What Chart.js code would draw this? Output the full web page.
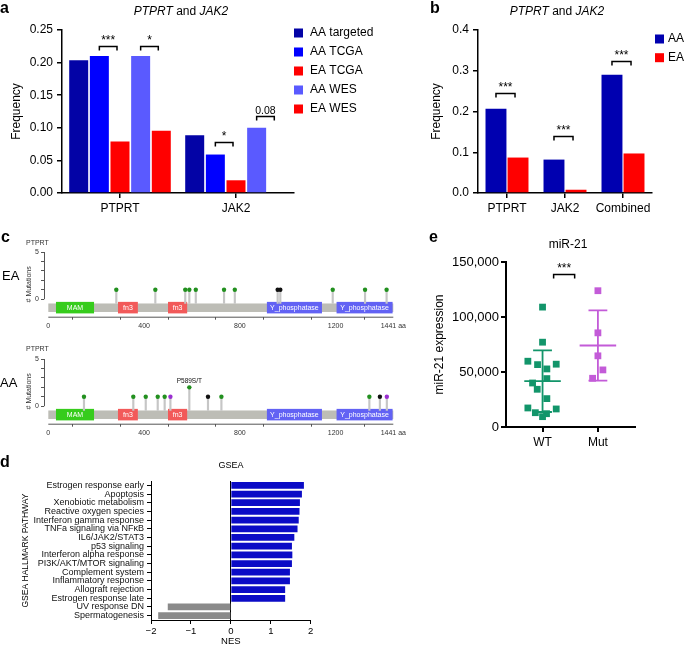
<!DOCTYPE html>
<html>
<head>
<meta charset="utf-8">
<title>PTPRT and JAK2</title>
<script src="https://cdn.jsdelivr.net/npm/chart.js@4.4.1/dist/chart.umd.min.js"></script>
<style>
  body { margin: 0; background: #fff; }
  #fig { position: relative; width: 685px; height: 647px; overflow: hidden; font-family: 'Liberation Sans', Arial, Helvetica, sans-serif; }
  #fig canvas { position: absolute; }
  .t { position: absolute; white-space: nowrap; line-height: 1; color: #000; }
  .p { font-weight: bold; font-size: 16px; }
</style>
</head>
<body>
<div id="fig">
  <canvas id="chartA" width="420" height="215" style="left:0;top:0"></canvas>
  <canvas id="chartB" width="265" height="215" style="left:420px;top:0"></canvas>
  <canvas id="chartC1" width="420" height="95" style="left:0;top:240px"></canvas>
  <canvas id="chartC2" width="420" height="95" style="left:0;top:347px"></canvas>
  <canvas id="chartD" width="340" height="207" style="left:0;top:440px"></canvas>
  <canvas id="chartE" width="285" height="230" style="left:400px;top:230px"></canvas>

  <div class="t p" style="left:0;top:0">a</div>
  <div class="t p" style="left:430px;top:0">b</div>
  <div class="t p" style="left:1px;top:229px">c</div>
  <div class="t p" style="left:0;top:454px">d</div>
  <div class="t p" style="left:429px;top:229px">e</div>

  <div class="t" style="left:121px;top:5px;width:120px;text-align:center;font-size:12px"><i>PTPRT</i> and <i>JAK2</i></div>
  <div class="t" style="left:497px;top:5px;width:120px;text-align:center;font-size:12px"><i>PTPRT</i> and <i>JAK2</i></div>
  <div class="t" style="left:518px;top:238px;width:100px;text-align:center;font-size:12px">miR-21</div>
  <div class="t" style="left:201px;top:461px;width:60px;text-align:center;font-size:9px">GSEA</div>

  <div class="t" style="left:26px;top:239px;font-size:7px;color:#333">PTPRT</div>
  <div class="t" style="left:26px;top:345px;font-size:7px;color:#333">PTPRT</div>
  <div class="t" style="left:2px;top:269px;font-size:13px">EA</div>
  <div class="t" style="left:0;top:376px;font-size:13px">AA</div>
</div>

<script>
const FONT = "'Liberation Sans', Arial, Helvetica, sans-serif";
Chart.defaults.font.family = FONT;
Chart.defaults.color = '#000';
Chart.defaults.animation = false;
Chart.defaults.responsive = false;
Chart.defaults.plugins.legend.display = false;
Chart.defaults.plugins.tooltip.enabled = false;

// ---- panel a: mutation frequency by cohort ----
const aCategories = ['PTPRT', 'JAK2'];
const aSeries = ['AA targeted', 'AA TCGA', 'EA TCGA', 'AA WES', 'EA WES'];
const aAAtargeted = [0.2035, 0.0885];
const aAATCGA = [0.210, 0.059];
const aEATCGA = [0.079, 0.0195];
const aAAWES = [0.210, 0.100];
const aEAWES = [0.0955, 0];
const aTicks = [0, 0.05, 0.10, 0.15, 0.20, 0.25];
const aColors = ['#0303a6', '#0000ff', '#ff0000', '#5a5aff', '#ff0000'];
const aBracketCat = [0, 0, 1, 1];
const aBracketFrom = [1, 3, 1, 3];
const aBracketTo = [2, 4, 2, 4];
const aBracketAt = [0.2255, 0.2255, 0.0787, 0.118];
const aBracketText = ['***', '*', '*', '0.08'];

// ---- panel b: AA vs EA ----
const bCategories = ['PTPRT', 'JAK2', 'Combined'];
const bAA = [0.207, 0.082, 0.290];
const bEA = [0.087, 0.008, 0.097];
const bTicks = [0, 0.1, 0.2, 0.3, 0.4];
const bBracketCat = [0, 1, 2];
const bBracketAt = [0.245, 0.141, 0.324];
const bBracketText = ['***', '***', '***'];

// ---- panel c: PTPRT lollipops ----
const cProteinLength = 1441;
const cDomainNames = ['MAM', 'fn3', 'fn3', 'Y_phosphatase', 'Y_phosphatase'];
const cDomainStart = [32, 291, 500, 913, 1204];
const cDomainEnd = [191, 374, 580, 1143, 1438];
const cDomainColors = ['#36cc1c', '#f25a5a', '#f25a5a', '#6262f4', '#6262f4'];
const cAxisTicks = [0, 200, 400, 600, 800, 1000, 1200, 1441];
const cEAPositions = [284, 447, 572, 589, 616, 734, 779, 958, 969, 1188, 1323, 1413];
const cEACounts = [1, 1, 1, 1, 1, 1, 1, 1, 1, 1, 1, 1];
const cEATypes = ['mis', 'mis', 'mis', 'mis', 'mis', 'mis', 'mis', 'trunc', 'trunc', 'mis', 'mis', 'mis'];
const cEANotes = ['', '', '', '', '', '', '', '', '', '', '', ''];
const cAAPositions = [149, 355, 407, 457, 486, 510, 589, 667, 723, 1341, 1385, 1414];
const cAACounts = [1, 1, 1, 1, 1, 1, 2, 1, 1, 1, 1, 1];
const cAATypes = ['mis', 'mis', 'mis', 'mis', 'mis', 'other', 'mis', 'trunc', 'mis', 'mis', 'trunc', 'other'];
const cAANotes = ['', '', '', '', '', '', 'P589S/T', '', '', '', '', ''];
const mutColors = { mis: '#22901f', trunc: '#111111', other: '#9a2fd0' };

// ---- panel d: GSEA ----
const dPathways = ['Estrogen response early', 'Apoptosis', 'Xenobiotic metabolism', 'Reactive oxygen species',
  'Interferon gamma response', 'TNFa signaling via NF\u03baB', 'IL6/JAK2/STAT3', 'p53 signaling',
  'Interferon alpha response', 'PI3K/AKT/MTOR signaling', 'Complement system', 'Inflammatory response',
  'Allograft rejection', 'Estrogen response late', 'UV response DN', 'Spermatogenesis'];
const dNES = [1.83, 1.78, 1.73, 1.72, 1.70, 1.67, 1.59, 1.53, 1.54, 1.53, 1.48, 1.48, 1.36, 1.36, -1.58, -1.82];
const dTicks = [-2, -1, 0, 1, 2];

// ---- panel e: miR-21 ----
const eGroups = ['WT', 'Mut'];
const eWT = [109000, 77100, 59800, 56700, 52800, 57100, 44000, 40000, 34300, 25800, 17300, 16400, 13000, 12100, 9400];
const eWTJitter = [0, 0, -0.265, -0.09, 0.078, 0.247, 0.078, -0.18, -0.096, 0.078, -0.265, 0.247, -0.13, 0.072, 0];
const eMut = [123900, 85600, 64700, 51900, 44300];
const eMutJitter = [0, 0, 0, 0.09, -0.096];
const eTicks = [0, 50000, 100000, 150000];
const eColors = ['#12956a', '#c35bd8'];

function blackAxis(w, len) {
  return {
    grid: { drawOnChartArea: false, offset: false, tickLength: len, color: '#000', lineWidth: w },
    border: { color: '#000', width: w }
  };
}

// significance brackets; xs(chart, i) gives the two x pixels
function brackets(at, text, xs) {
  return {
    id: 'brackets',
    afterDatasetsDraw(chart) {
      const ctx = chart.ctx;
      const y = chart.scales.y;
      ctx.save();
      ctx.strokeStyle = '#000';
      ctx.fillStyle = '#000';
      ctx.lineWidth = 1.5;
      ctx.textAlign = 'center';
      at.forEach((v, i) => {
        const [x1, x2] = xs(chart, i);
        const yy = Math.round(y.getPixelForValue(v)) + 0.5;
        ctx.beginPath();
        ctx.moveTo(x1, yy + 4);
        ctx.lineTo(x1, yy);
        ctx.lineTo(x2, yy);
        ctx.lineTo(x2, yy + 4);
        ctx.stroke();
        ctx.font = (/^\*+$/.test(text[i]) ? 12 : 10.5) + 'px ' + FONT;
        ctx.fillText(text[i], (x1 + x2) / 2, yy - 3);
      });
      ctx.restore();
    }
  };
}

function boxLegend(x, y, step, box, gap) {
  return {
    id: 'boxLegend',
    afterDraw(chart) {
      const ctx = chart.ctx;
      ctx.save();
      ctx.font = '12px ' + FONT;
      ctx.textBaseline = 'middle';
      ctx.textAlign = 'left';
      chart.data.datasets.forEach((ds, i) => {
        const yy = y + i * step;
        ctx.fillStyle = ds.backgroundColor;
        ctx.fillRect(x, yy - box / 2, box, box);
        ctx.fillStyle = '#000';
        ctx.fillText(ds.label, x + box + gap, yy);
      });
      ctx.restore();
    }
  };
}

// panel a
const aValues = [aAAtargeted, aAATCGA, aEATCGA, aAAWES, aEAWES];
new Chart(document.getElementById('chartA'), {
  type: 'bar',
  data: {
    labels: aCategories,
    datasets: aSeries.map((name, i) => ({
      label: name,
      data: aValues[i],
      backgroundColor: aColors[i],
      categoryPercentage: 0.89,
      barPercentage: 0.92
    }))
  },
  options: {
    layout: { padding: { top: 30, right: 126, left: 0, bottom: 0 } },
    scales: {
      x: {
        ...blackAxis(1.5, 5),
        ticks: { font: { size: 12 }, padding: 3, maxRotation: 0, minRotation: 0, autoSkip: false },
        afterFit: s => { s.height = 22; }
      },
      y: {
        ...blackAxis(1.5, 5),
        min: 0, max: 0.25,
        afterBuildTicks: s => { s.ticks = aTicks.map(v => ({ value: v })); },
        ticks: { font: { size: 12 }, padding: 4, callback: v => v.toFixed(2) },
        title: { display: true, text: 'Frequency', font: { size: 12 }, padding: { top: 9 } },
        afterFit: s => { s.width = 62; }
      }
    }
  },
  plugins: [
    brackets(aBracketAt, aBracketText, (chart, i) => [
      chart.getDatasetMeta(aBracketFrom[i]).data[aBracketCat[i]].x,
      chart.getDatasetMeta(aBracketTo[i]).data[aBracketCat[i]].x - 3
    ]),
    boxLegend(294, 33, 19, 9, 7)
  ]
});

// panel b
new Chart(document.getElementById('chartB'), {
  type: 'bar',
  data: {
    labels: bCategories,
    datasets: [
      { label: 'AA', data: bAA, backgroundColor: '#0000b0', categoryPercentage: 0.76, barPercentage: 0.95 },
      { label: 'EA', data: bEA, backgroundColor: '#ff0000', categoryPercentage: 0.76, barPercentage: 0.95 }
    ]
  },
  options: {
    layout: { padding: { top: 30, right: 33, left: 0, bottom: 0 } },
    scales: {
      x: {
        ...blackAxis(1.5, 5),
        ticks: { font: { size: 12 }, padding: 3, maxRotation: 0, minRotation: 0, autoSkip: false },
        afterFit: s => { s.height = 22; }
      },
      y: {
        ...blackAxis(1.5, 5),
        min: 0, max: 0.4,
        afterBuildTicks: s => { s.ticks = bTicks.map(v => ({ value: v })); },
        ticks: { font: { size: 12 }, padding: 4, callback: v => v.toFixed(1) },
        title: { display: true, text: 'Frequency', font: { size: 12 }, padding: { top: 9 } },
        afterFit: s => { s.width = 58; }
      }
    }
  },
  plugins: [
    brackets(bBracketAt, bBracketText, (chart, i) => [
      chart.getDatasetMeta(0).data[bBracketCat[i]].x,
      chart.getDatasetMeta(1).data[bBracketCat[i]].x - 3
    ]),
    boxLegend(235, 39, 18.7, 9, 4)
  ]
});

// panel c
const stemBase = -0.45;
const proteinPlugin = {
  id: 'protein',
  beforeDatasetsDraw(chart) {
    const { ctx, chartArea, scales: { x, y } } = chart;
    const px = v => x.getPixelForValue(v);
    const py = v => y.getPixelForValue(v);
    ctx.save();
    // axis lines, only over the used range
    ctx.strokeStyle = '#555';
    ctx.lineWidth = 1;
    ctx.beginPath();
    ctx.moveTo(chartArea.left + 0.5, py(0));
    ctx.lineTo(chartArea.left + 0.5, py(5));
    ctx.moveTo(px(0), chartArea.bottom + 0.5);
    ctx.lineTo(px(cProteinLength), chartArea.bottom + 0.5);
    ctx.stroke();
    // backbone
    ctx.fillStyle = '#bdbdb6';
    ctx.fillRect(px(0), py(stemBase), px(cProteinLength) - px(0), py(-1.35) - py(stemBase));
    // domains
    ctx.font = '7px ' + FONT;
    ctx.textAlign = 'center';
    ctx.textBaseline = 'middle';
    const top = py(-0.28), bot = py(-1.5);
    cDomainStart.forEach((s, i) => {
      const x1 = px(s), x2 = px(cDomainEnd[i]);
      ctx.fillStyle = cDomainColors[i];
      ctx.fillRect(x1, top, x2 - x1, bot - top);
      ctx.fillStyle = '#fff';
      ctx.fillText(cDomainNames[i], (x1 + x2) / 2, (top + bot) / 2 + 0.5);
    });
    ctx.restore();
  }
};

function notesPlugin(positions, counts, notes) {
  return {
    id: 'notes',
    afterDatasetsDraw(chart) {
      const { ctx, scales: { x, y } } = chart;
      ctx.save();
      ctx.font = '6.5px ' + FONT;
      ctx.fillStyle = '#111';
      ctx.textAlign = 'center';
      notes.forEach((n, i) => {
        if (n) ctx.fillText(n, x.getPixelForValue(positions[i]), y.getPixelForValue(counts[i]) - 4);
      });
      ctx.restore();
    }
  };
}

function lollipop(id, positions, counts, types, notes) {
  new Chart(document.getElementById(id), {
    type: 'bar',
    data: {
      datasets: [
        {
          type: 'scatter',
          data: positions.map((p, i) => ({ x: p, y: counts[i] })),
          pointRadius: 2.2,
          pointBorderWidth: 0,
          pointBackgroundColor: types.map(t => mutColors[t])
        },
        {
          type: 'bar',
          data: positions.map((p, i) => ({ x: p, y: [stemBase, counts[i]] })),
          backgroundColor: '#c6c6c6',
          barThickness: 1.5,
          grouped: false
        }
      ]
    },
    options: {
      layout: { padding: { top: 12, right: 25.5, left: 0, bottom: 0 } },
      scales: {
        x: {
          type: 'linear', offset: false, min: -18, max: 1446,
          afterBuildTicks: s => { s.ticks = cAxisTicks.map(v => ({ value: v })); },
          ticks: {
            autoSkip: false, maxRotation: 0, font: { size: 7 }, color: '#333', padding: 2,
            callback: v => v === cProteinLength ? v + ' aa' : (v % 400 === 0 ? String(v) : '')
          },
          grid: { drawOnChartArea: false, tickLength: 3, color: '#555', lineWidth: 1 },
          border: { display: false },
          afterFit: s => { s.height = 18.3; }
        },
        y: {
          min: -1.85, max: 5,
          afterBuildTicks: s => { s.ticks = [0, 1, 2, 3, 4, 5].map(v => ({ value: v })); },
          ticks: { font: { size: 7 }, color: '#333', padding: 2, callback: v => (v === 0 || v === 5) ? String(v) : '' },
          grid: { drawOnChartArea: false, tickLength: 3, color: '#555', lineWidth: 1 },
          border: { display: false },
          title: { display: true, text: '# Mutations', font: { size: 7 }, color: '#333', padding: { top: 25 } },
          afterFit: s => { s.width = 44; }
        }
      }
    },
    plugins: [proteinPlugin, notesPlugin(positions, counts, notes)]
  });
}
lollipop('chartC1', cEAPositions, cEACounts, cEATypes, cEANotes);
lollipop('chartC2', cAAPositions, cAACounts, cAATypes, cAANotes);

// panel d
new Chart(document.getElementById('chartD'), {
  type: 'bar',
  data: {
    labels: dPathways,
    datasets: [{
      data: dNES,
      backgroundColor: c => c.raw >= 0 ? '#0b0bc6' : '#8a8a8a',
      categoryPercentage: 1,
      barPercentage: 0.78
    }]
  },
  options: {
    indexAxis: 'y',
    layout: { padding: { top: 41, right: 29.3, left: 0, bottom: 0 } },
    scales: {
      x: {
        min: -2, max: 2,
        afterBuildTicks: s => { s.ticks = dTicks.map(v => ({ value: v })); },
        ticks: { font: { size: 9.5 }, padding: 2, callback: v => String(v).replace('-', '\u2212') },
        grid: {
          drawOnChartArea: true, tickLength: 4, lineWidth: 1, tickColor: '#000',
          color: c => (c.tick && c.tick.value === 0) ? '#000' : 'rgba(0,0,0,0)'
        },
        border: { color: '#000', width: 1 },
        title: { display: true, text: 'NES', font: { size: 9.5 }, padding: { top: 0, bottom: 0 } },
        afterFit: s => { s.height = 27; }
      },
      y: {
        ...blackAxis(1, 4),
        ticks: { font: { size: 9 }, padding: 3, autoSkip: false, color: '#111' },
        title: { display: true, text: 'GSEA HALLMARK PATHWAY', font: { size: 8.5 }, padding: { top: 20.5 } },
        afterFit: s => { s.width = 151; }
      }
    }
  }
});

// panel e
const meanSd = {
  id: 'meanSd',
  afterDatasetsDraw(chart) {
    const { ctx, scales: { x, y } } = chart;
    const px = v => x.getPixelForValue(v);
    const py = v => y.getPixelForValue(v);
    [eWT, eMut].forEach((vals, g) => {
      const n = vals.length;
      const mean = vals.reduce((a, b) => a + b, 0) / n;
      const sd = Math.sqrt(vals.reduce((a, b) => a + (b - mean) * (b - mean), 0) / (n - 1));
      const cx = g + 1;
      ctx.save();
      ctx.strokeStyle = eColors[g];
      ctx.lineWidth = 1.8;
      ctx.beginPath();
      ctx.moveTo(px(cx - 0.33), py(mean));
      ctx.lineTo(px(cx + 0.33), py(mean));
      ctx.moveTo(px(cx), py(mean - sd));
      ctx.lineTo(px(cx), py(mean + sd));
      ctx.moveTo(px(cx - 0.17), py(mean + sd));
      ctx.lineTo(px(cx + 0.17), py(mean + sd));
      ctx.moveTo(px(cx - 0.17), py(mean - sd));
      ctx.lineTo(px(cx + 0.17), py(mean - sd));
      ctx.stroke();
      ctx.restore();
    });
  }
};

const eBracketAt = [139300];
const eBracketText = ['***'];
const eBracketX1 = [1.2];
const eBracketX2 = [1.58];

new Chart(document.getElementById('chartE'), {
  type: 'scatter',
  data: {
    datasets: [
      {
        data: eWT.map((v, i) => ({ x: 1 + eWTJitter[i], y: v })),
        pointStyle: 'rect', pointRadius: 4.8, pointBorderWidth: 0, backgroundColor: eColors[0]
      },
      {
        data: eMut.map((v, i) => ({ x: 2 + eMutJitter[i], y: v })),
        pointStyle: 'rect', pointRadius: 4.8, pointBorderWidth: 0, backgroundColor: eColors[1]
      }
    ]
  },
  options: {
    layout: { padding: { top: 32, right: 50, left: 0, bottom: 0 } },
    scales: {
      x: {
        ...blackAxis(2, 5),
        min: 0.34, max: 2.67,
        afterBuildTicks: s => { s.ticks = [1, 2].map(v => ({ value: v })); },
        ticks: { font: { size: 12 }, padding: 3, callback: v => eGroups[v - 1] },
        afterFit: s => { s.height = 33; }
      },
      y: {
        ...blackAxis(2, 5),
        min: 0, max: 150000,
        afterBuildTicks: s => { s.ticks = eTicks.map(v => ({ value: v })); },
        ticks: { font: { size: 13 }, padding: 2, callback: v => v.toLocaleString('en-US') },
        title: { display: true, text: 'miR-21 expression', font: { size: 12 }, padding: { top: 32 } },
        afterFit: s => { s.width = 106; }
      }
    }
  },
  plugins: [
    meanSd,
    brackets(eBracketAt, eBracketText, (chart, i) => [
      chart.scales.x.getPixelForValue(eBracketX1[i]),
      chart.scales.x.getPixelForValue(eBracketX2[i])
    ])
  ]
});
</script>
</body>
</html>
